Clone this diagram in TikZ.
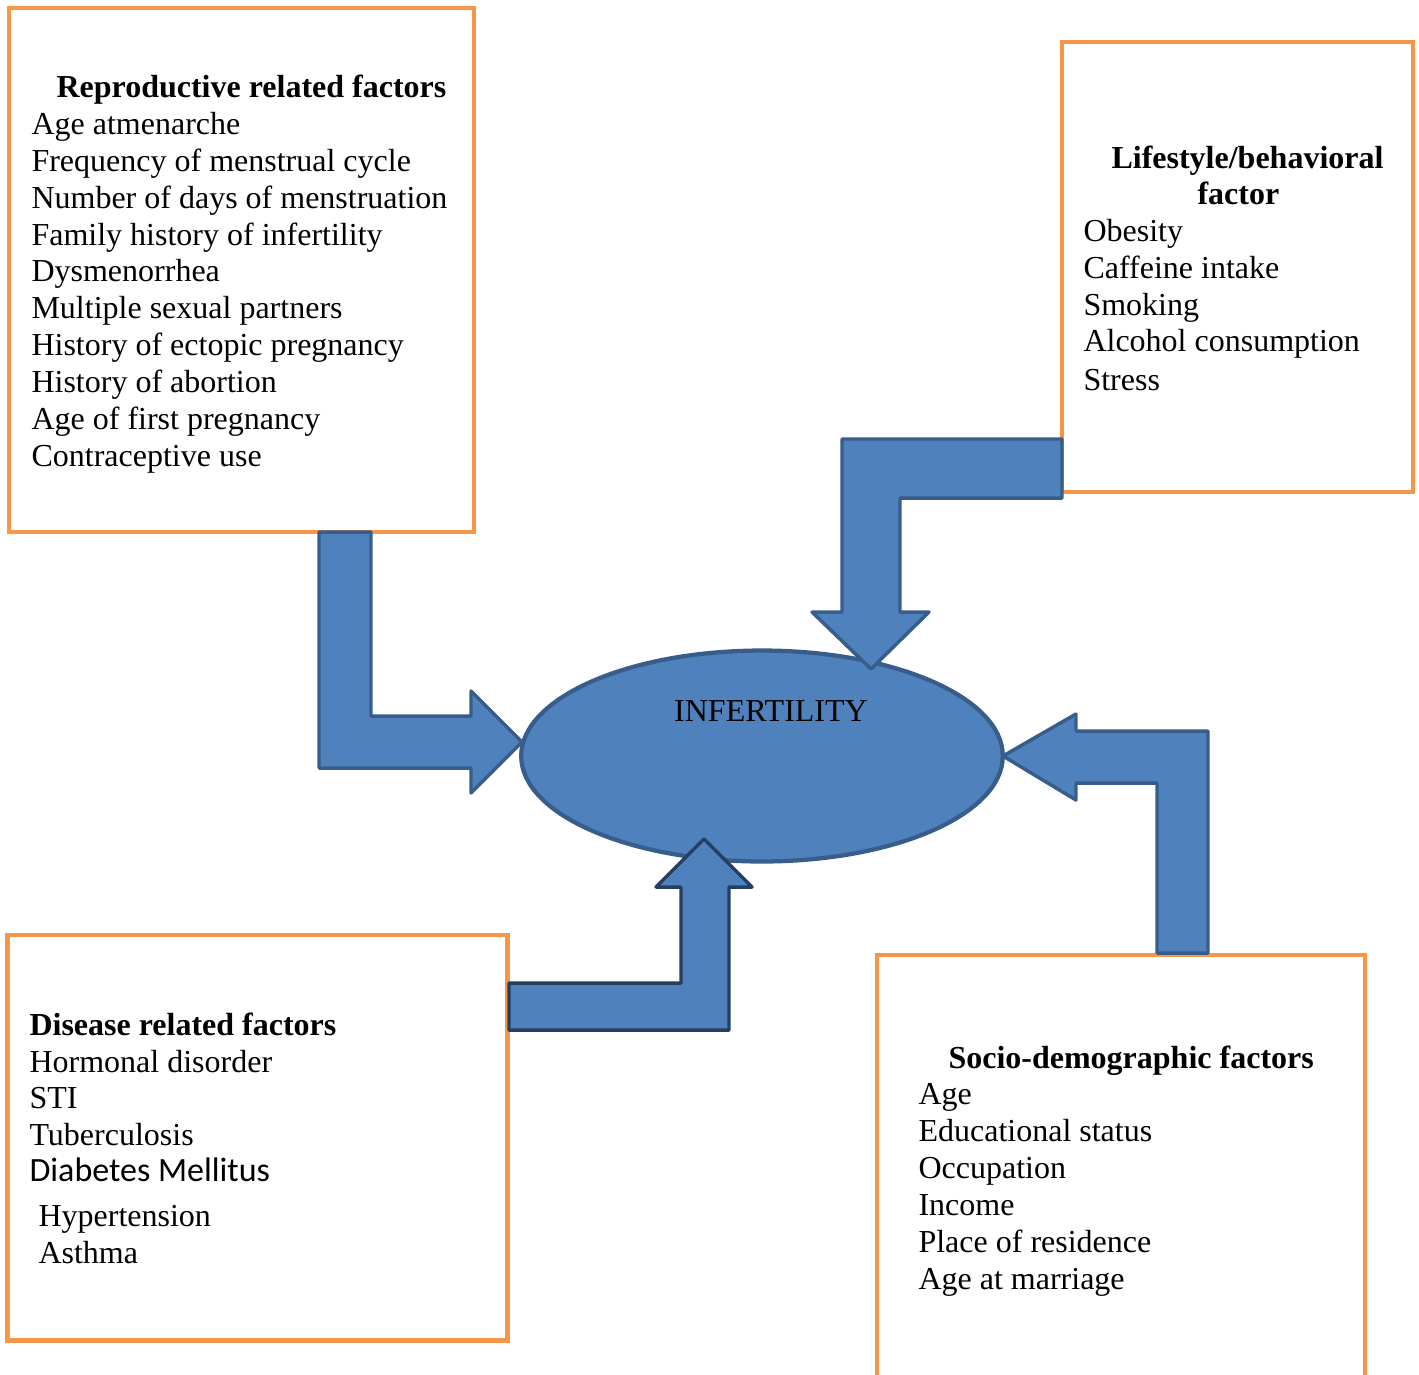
\documentclass[tikz,border=0pt]{standalone}
\usepackage{fontspec}
\setmainfont{Liberation Serif}
\newfontfamily\calibrifont{Carlito}
\usetikzlibrary{shapes.geometric,fit}

\definecolor{boxorange}{HTML}{F79646}
\definecolor{arrowfill}{HTML}{4F81BD}
\definecolor{arrowline}{HTML}{385D8A}
\definecolor{arrowdark}{HTML}{243F60}

\tikzset{
  factorbox/.style={draw=boxorange, line width=1.6pt, inner sep=0pt},
  blockarrow/.style={fill=arrowfill, draw=arrowline, line width=1.3pt, line join=round},
  boxtitle/.style={anchor=base west, inner sep=0pt, font=\fontsize{12}{14}\selectfont\bfseries},
  boxitem/.style={anchor=base west, inner sep=0pt, font=\fontsize{12}{14}\selectfont},
}

\begin{document}
\begin{tikzpicture}[x=0.375pt, y=-0.375pt]
  \clip (0,0) rectangle (1419,1374);

  % Cajas de factores
  \node[factorbox, fit={(9,8) (474,532)}] (repro) {};
  \node[factorbox, fit={(1062,42) (1413,492)}] (life) {};
  \node[factorbox, fit={(7.5,935) (507.5,1340.5)}] (disease) {};
  \node[factorbox, fit={(877,955) (1365,1420)}] (socio) {};

  % Elipse central
  \node[ellipse, fill=arrowfill, draw=arrowline, line width=1.6pt,
        minimum width=180.6pt, minimum height=79.1pt, inner sep=0pt] (infert) at (762,756) {};
  \node[boxitem, anchor=base] (infertlabel) at (771,721) {INFERTILITY};

  % Flechas de bloque
  \draw[blockarrow] (319,532) -- (371,532) -- (371,716) -- (471,716) -- (471,691)
    -- (522,742) -- (471,793) -- (471,768) -- (319,768) -- cycle;
  \draw[blockarrow] (1062,439) -- (1062,498) -- (900,498) -- (900,612) -- (929,612)
    -- (871,669) -- (812,612) -- (842,612) -- (842,439) -- cycle;
  \draw[blockarrow] (1157,953) -- (1157,783) -- (1076,783) -- (1076,800)
    -- (1003,756) -- (1076,714) -- (1076,731) -- (1208,731) -- (1208,953) -- cycle;
  \draw[blockarrow, draw=arrowdark] (509,983) -- (681,983) -- (681,887) -- (656,887)
    -- (704,839) -- (752,887) -- (729,887) -- (729,1030) -- (509,1030) -- cycle;

  % Textos: factores reproductivos
  \node[boxtitle] (repro-title) at (56,97.5) {Reproductive related factors};
  \foreach \txt [count=\i from 0] in {Age atmenarche, Frequency of menstrual cycle,
      Number of days of menstruation, Family history of infertility, Dysmenorrhea,
      Multiple sexual partners, History of ectopic pregnancy, History of abortion,
      Age of first pregnancy, Contraceptive use}
    \node[boxitem] (repro-\i) at (31,{134.5+36.85*\i}) {\txt};

  % Textos: estilo de vida
  \node[boxtitle] (life-title) at (1111,168.5) {Lifestyle/behavioral};
  \node[boxtitle] (life-title2) at (1197,204.5) {factor};
  \foreach \yy/\txt [count=\i] in {241.5/Obesity, 278.5/Caffeine intake, 315.5/Smoking,
      351.5/Alcohol consumption, 390.5/Stress}
    \node[boxitem] (life-\i) at (1083,\yy) {\txt};

  % Textos: enfermedades
  \node[boxtitle] (disease-title) at (29,1035.5) {Disease related factors};
  \foreach \xx/\yy/\txt [count=\i] in {29/1072.5/Hormonal disorder, 29/1108.5/STI,
      29/1145.5/Tuberculosis, 29/1181.5/{\calibrifont\fontsize{12.75}{14}\selectfont Diabetes Mellitus},
      38/1226.5/Hypertension, 38/1263.5/Asthma}
    \node[boxitem] (disease-\i) at (\xx,\yy) {\txt};

  % Textos: sociodemograficos
  \node[boxtitle] (socio-title) at (948,1068.5) {Socio-demographic factors};
  \foreach \txt [count=\i from 0] in {Age, Educational status, Occupation, Income,
      Place of residence, Age at marriage}
    \node[boxitem] (socio-\i) at (918,{1104.5+37*\i}) {\txt};
\end{tikzpicture}
\end{document}
